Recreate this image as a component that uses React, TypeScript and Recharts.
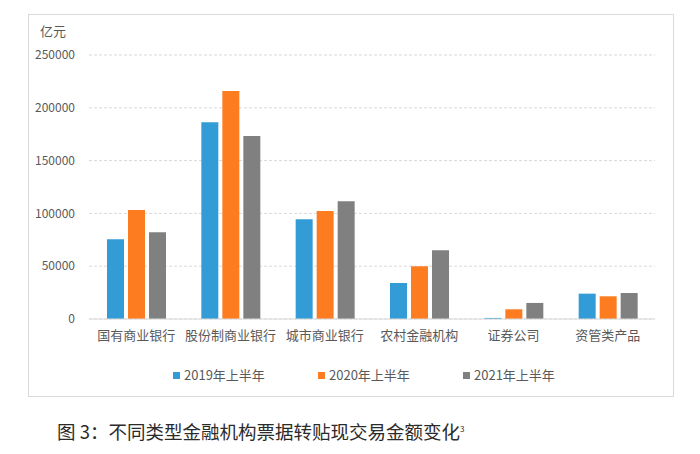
import React from 'react';
import { BarChart, Bar, XAxis, YAxis, CartesianGrid } from 'recharts';

const categories = ['国有商业银行', '股份制商业银行', '城市商业银行', '农村金融机构', '证券公司', '资管类产品'];
const h2019 = [75600, 186300, 94400, 34100, 1000, 24000];
const h2020 = [103200, 216000, 102300, 49900, 9200, 21500];
const h2021 = [82100, 173300, 111500, 65000, 15200, 24600];
const seriesNames = ['2019年上半年', '2020年上半年', '2021年上半年'];
const seriesColors = ['#339CD6', '#FD7C20', '#808080'];
const yTicks = [0, 50000, 100000, 150000, 200000, 250000];
const unitLabel = '亿元';
const caption = '图 3：不同类型金融机构票据转贴现交易金额变化';

const data = categories.map((name, i) => ({
  name,
  a: h2019[i],
  b: h2020[i],
  c: h2021[i],
}));
const keys = ['a', 'b', 'c'];

const font = '"Microsoft YaHei", "Noto Sans CJK SC", sans-serif';

export default function App() {
  return (
    <div
      style={{
        position: 'absolute',
        left: 0,
        top: 0,
        width: 700,
        height: 454,
        background: '#fff',
        fontFamily: font,
      }}
    >
      {/* frame */}
      <div
        style={{
          position: 'absolute',
          left: 28,
          top: 14,
          width: 646,
          height: 383,
          border: '1px solid #d9d9d9',
          boxSizing: 'border-box',
        }}
      />
      <div
        style={{
          position: 'absolute',
          left: 40,
          top: 22,
          fontSize: 13,
          color: '#595959',
          lineHeight: '18px',
        }}
      >
        {unitLabel}
      </div>
      <div style={{ position: 'absolute', left: 0, top: 0 }}>
        <BarChart
          width={700}
          height={454}
          data={data}
          margin={{ top: 55, right: 45, left: 29, bottom: 105 }}
          barGap={4}
          barSize={17}
        >
          <CartesianGrid vertical={false} stroke="#d9d9d9" strokeDasharray="3 2" />
          <XAxis
            dataKey="name"
            axisLine={{ stroke: '#d9d9d9' }}
            tickLine={false}
            tickMargin={6}
            interval={0}
            tick={{ fill: '#595959', fontSize: 13, fontFamily: font }}
          />
          <YAxis
            width={60}
            domain={[0, 250000]}
            ticks={yTicks}
            axisLine={false}
            tickLine={false}
            tickMargin={8}
            tick={{ fill: '#595959', fontSize: 12, fontFamily: font }}
          />
          {keys.map((k, i) => (
            <Bar
              key={k}
              dataKey={k}
              name={seriesNames[i]}
              fill={seriesColors[i]}
              isAnimationActive={false}
            />
          ))}
        </BarChart>
      </div>
      {/* legend */}
      {seriesNames.map((n, i) => (
        <div
          key={n}
          style={{
            position: 'absolute',
            left: 173 + i * 145,
            top: 366,
            display: 'flex',
            alignItems: 'center',
            fontSize: 13,
            color: '#595959',
            lineHeight: '18px',
          }}
        >
          <span
            style={{
              display: 'inline-block',
              width: 7,
              height: 7,
              background: seriesColors[i],
              marginRight: 4,
            }}
          />
          {n}
        </div>
      ))}
      {/* caption */}
      <div
        style={{
          position: 'absolute',
          left: 57,
          top: 418,
          fontSize: 18.5,
          color: '#2b2b2b',
          lineHeight: '26px',
          whiteSpace: 'nowrap',
          fontFamily: '"Noto Sans CJK SC", serif',
        }}
      >
        {caption}
        <sup style={{ fontSize: 8, verticalAlign: 'top', position: 'relative', top: -2 }}>3</sup>
      </div>
    </div>
  );
}
